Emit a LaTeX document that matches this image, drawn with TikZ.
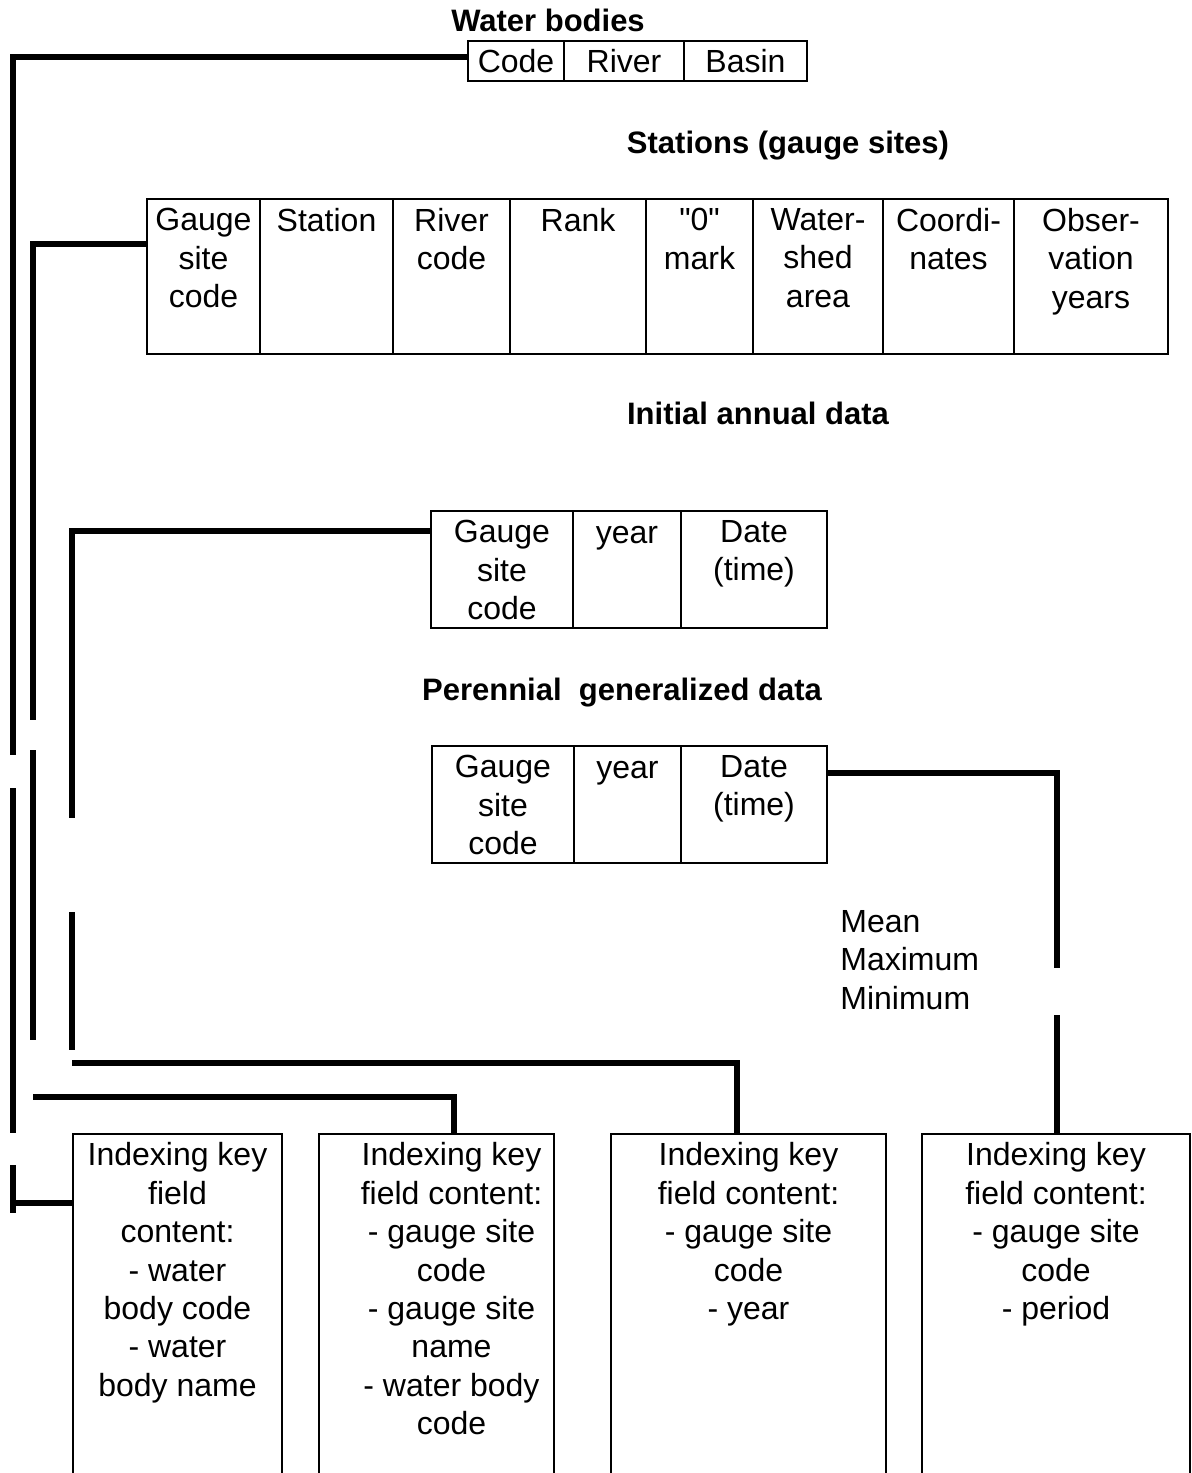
\documentclass[tikz,border=0pt]{standalone}
\usepackage{fontspec}
\setmainfont{Liberation Sans}[Ligatures=TeXOff]
\usetikzlibrary{positioning}

\tikzset{
  cell/.style={draw, line width=1pt, inner sep=0pt, anchor=north west, minimum height=#1},
  cell/.default=40pt,
  celltext/.style={font=\fontsize{16}{19.2}\selectfont, align=center, inner sep=0pt,
    anchor=north, execute at begin node=\vphantom{Gd}},
  heading/.style={font=\fontsize{15.5}{18}\selectfont\bfseries, inner sep=0pt, anchor=base},
  link/.style={line width=2.6pt},
}

\begin{document}
\begin{tikzpicture}[x=0.5pt, y=-0.5pt]
  \path[use as bounding box, fill=white] (0,0) rectangle (1191,1473);
  \clip (0,0) rectangle (1191,1473);

  % table headings
  \node[heading] (wbtitle) at (548,31) {Water bodies};
  \node[heading] (sttitle) at (788,153) {Stations (gauge sites)};
  \node[heading] (iatitle) at (758,424) {Initial annual data};
  \node[heading] (pgtitle) at (622,700) {Perennial\ \ generalized data};

  % water bodies
  \foreach \xa/\xb/\t [count=\i] in {467/563/Code, 563/683/River, 683/806/Basin} {
    \node[cell=20pt, minimum width={(\xb-\xa)*0.5pt}] (wb\i) at (\xa,40) {};
    \node[celltext, below=4.6pt of wb\i.north] {\t};
  }

  % stations
  \foreach \xa/\xb/\t [count=\i] in {146/259/{Gauge\\site\\code}, 259/392/Station,
      392/509/{River\\code}, 509/645/Rank, 645/752/{"0"\\mark},
      752/882/{Water-\\shed\\area}, 882/1013/{Coordi-\\nates},
      1013/1167/{Obser-\\vation\\years}} {
    \node[cell=77.5pt, minimum width={(\xb-\xa)*0.5pt}] (st\i) at (\xa,198) {};
    \node[celltext, below=5pt of st\i.north] {\t};
  }

  % initial annual data
  \foreach \xa/\xb/\t [count=\i] in {430/572/{Gauge\\site\\code}, 572/680/year, 680/826/{Date\\(time)}} {
    \node[cell=58.5pt, minimum width={(\xb-\xa)*0.5pt}] (ia\i) at (\xa,510) {};
    \node[celltext, below=5pt of ia\i.north] {\t};
  }

  % perennial generalized data
  \foreach \xa/\xb/\t [count=\i] in {431/573/{Gauge\\site\\code}, 573/680/year, 680/826/{Date\\(time)}} {
    \node[cell=58.5pt, minimum width={(\xb-\xa)*0.5pt}] (pg\i) at (\xa,745) {};
    \node[celltext, below=5pt of pg\i.north] {\t};
  }

  \node[celltext, anchor=north west, align=left] (stats) at (840,910) {Mean\\Maximum\\Minimum};

  % indexing keys
  \foreach \xa/\xb/\dx/\t [count=\i] in {
      72/281/0/{Indexing key\\field\\content:\\- water\\body code\\- water\\body name},
      318/553/7.5/{Indexing key\\field content:\\- gauge site\\code\\- gauge site\\name\\- water body\\code},
      610/885/0/{Indexing key\\field content:\\- gauge site\\code\\- year},
      921/1189/0/{Indexing key\\field content:\\- gauge site\\code\\- period}} {
    \node[cell=190pt, minimum width={(\xb-\xa)*0.5pt}] (ix\i) at (\xa,1133) {};
    \node[celltext, below=4.6pt of ix\i.north, xshift=\dx pt] {\t};
  }

  % water bodies -> first key
  \coordinate (a1) at (13,755);
  \coordinate (a2) at (13,788);
  \coordinate (a3) at (13,1133);
  \coordinate (a4) at (13,1165);
  \coordinate (a5) at (13,1213);
  \coordinate (a6) at (13,1203);
  \draw[link] ([yshift=2pt]wb1.west) -| (a1);
  \draw[link] (a2) -- (a3);
  \draw[link] (a4) -- (a5);
  \draw[link] (a6) -- (a6 -| ix1.west);

  % stations -> second key
  \coordinate (b1) at (33,244);
  \coordinate (b2) at (33,720);
  \coordinate (b3) at (33,750);
  \coordinate (b4) at (33,1040);
  \coordinate (b5) at (33,1097);
  \draw[link] (st1.west |- b1) -- (b1) -- (b2);
  \draw[link] (b3) -- (b4);
  \draw[link] (b5) -| ([xshift=8.75pt]ix2.north);

  % initial annual data -> third key
  \coordinate (c1) at (72,531);
  \coordinate (c2) at (72,818);
  \coordinate (c3) at (72,912);
  \coordinate (c4) at (72,1050);
  \coordinate (c5) at (72,1063);
  \draw[link] (ia1.west |- c1) -- (c1) -- (c2);
  \draw[link] (c3) -- (c4);
  \draw[link] (c5) -| ([xshift=-5.75pt]ix3.north);

  % perennial data -> fourth key
  \coordinate (d1) at (1057,773);
  \coordinate (d2) at (1057,968);
  \coordinate (d3) at (1057,1015);
  \draw[link] (pg3.east |- d1) -- (d1) -- (d2);
  \draw[link] (d3) -- (d3 |- ix4.north);
\end{tikzpicture}
\end{document}
